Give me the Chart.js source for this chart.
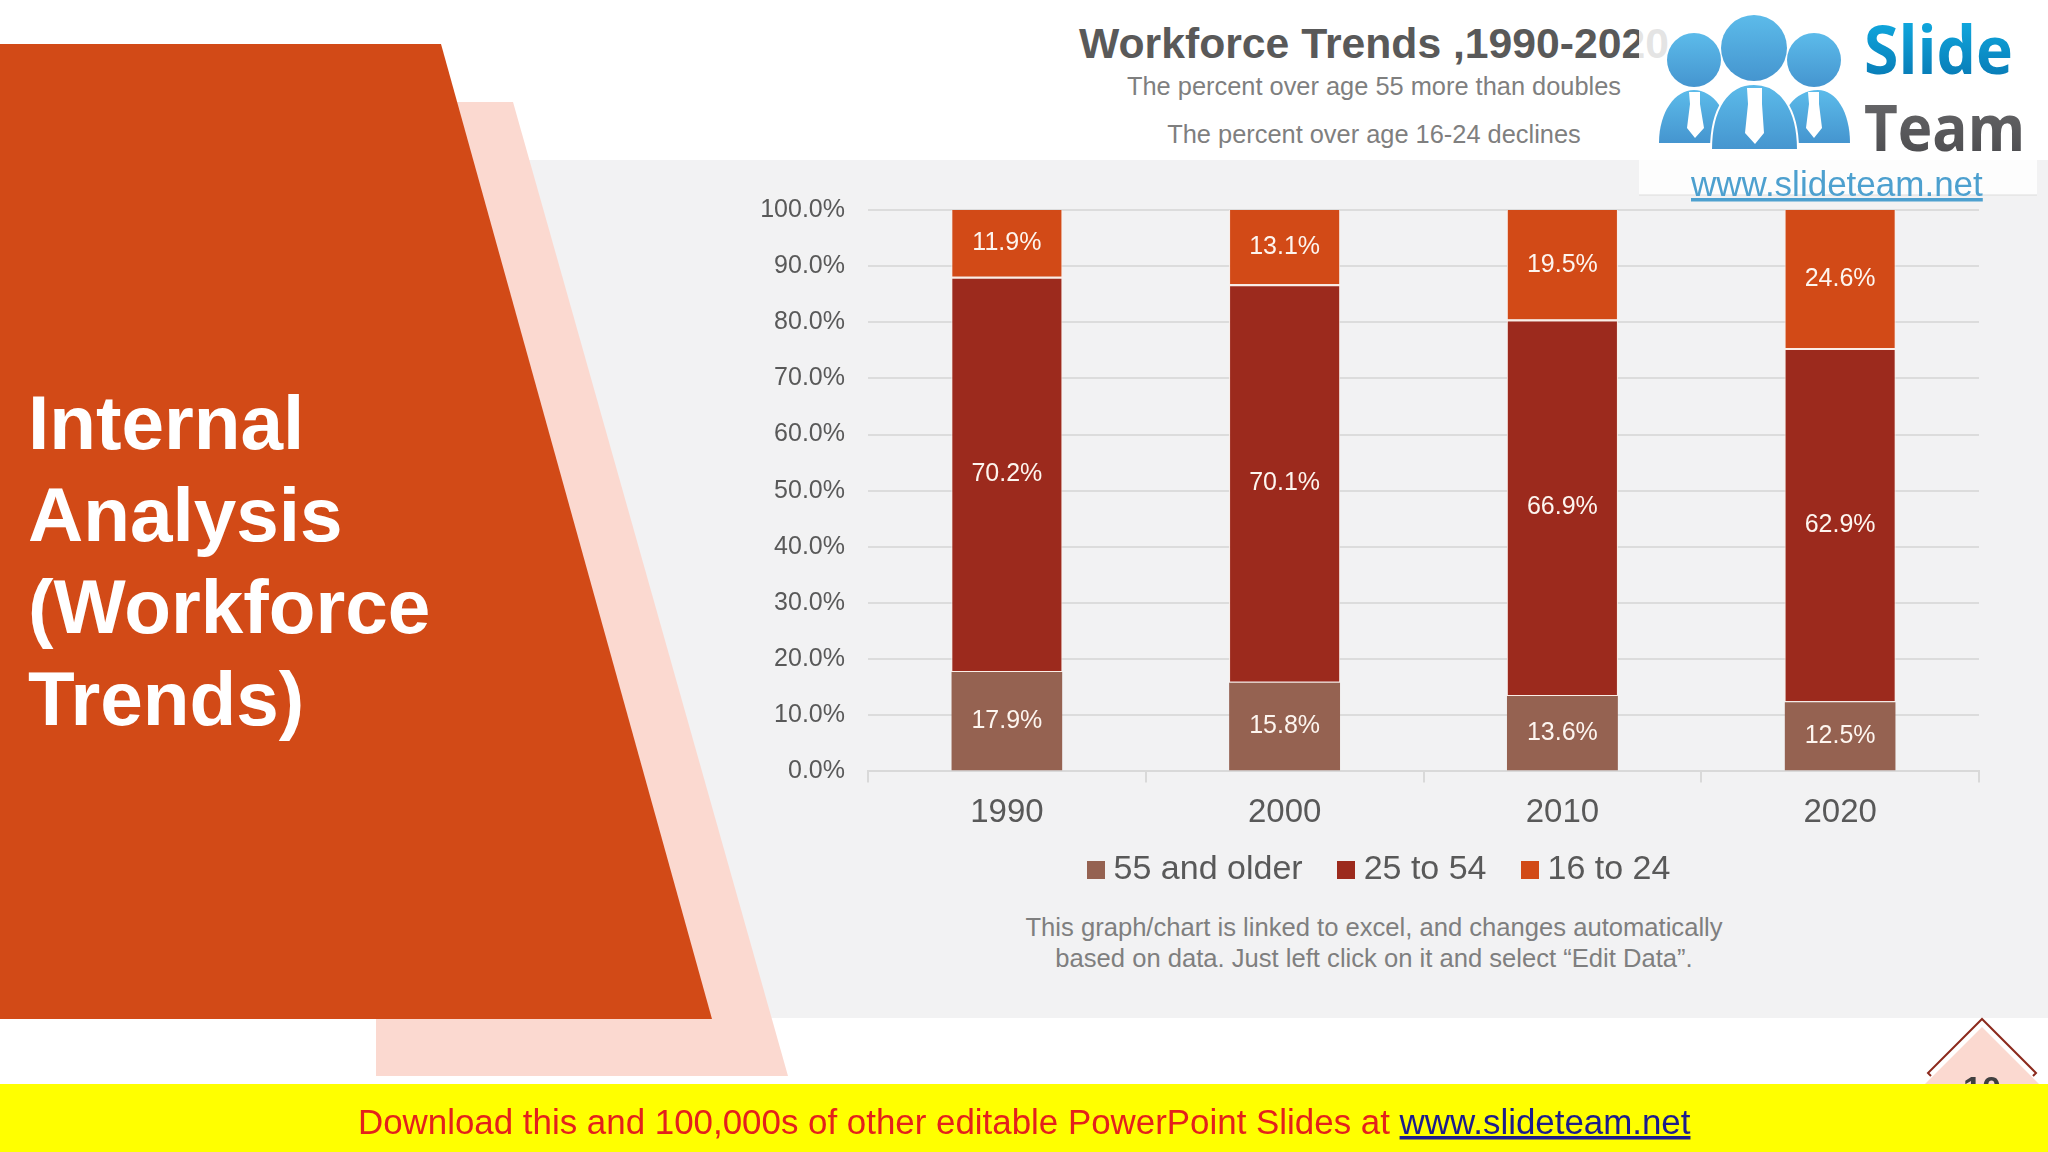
<!DOCTYPE html>
<html><head><meta charset="utf-8">
<script src="https://cdn.jsdelivr.net/npm/chart.js@4"></script>
<style>
html,body{margin:0;padding:0;background:#fff;width:2048px;height:1152px;overflow:hidden;font-family:"Liberation Sans",Arial,sans-serif}
#deco,#top{position:absolute;left:0;top:0}
#wrap{position:absolute;left:740px;top:172px;width:1276px;height:759px}
</style></head><body>
<svg id="deco" width="2048" height="1152" xmlns="http://www.w3.org/2000/svg">
<rect x="440" y="160" width="1608" height="858" fill="#F2F2F3"/>
<polygon points="400,102 513,102 788,1076 376,1076 376,1000" fill="#FBD9D0"/>
<polygon points="0,44 441,44 712,1019 0,1019" fill="#D24A17"/>
<g font-family="Liberation Sans" font-weight="700" font-size="76.5" fill="#fff">
<text x="28" y="449">Internal</text><text x="28" y="541">Analysis</text><text x="28" y="633">(Workforce</text><text x="28" y="725">Trends)</text>
</g>
<g text-anchor="middle" font-family="Liberation Sans" fill="#7f7f7f">
<text x="1374" y="58" font-size="42.7" font-weight="700" fill="#595959">Workforce Trends ,1990-2020</text>
<text x="1374" y="95" font-size="25.4">The percent over age 55 more than doubles</text>
<text x="1374" y="143" font-size="25.4">The percent over age 16-24 declines</text>
<text x="1374" y="936" font-size="25.6">This graph/chart is linked to excel, and changes automatically</text>
<text x="1374" y="967" font-size="25.6">based on data. Just left click on it and select “Edit Data”.</text>
</g>
</svg>
<div id="wrap"><canvas id="c" width="1276" height="759" style="width:1276px;height:759px"></canvas></div>
<svg id="top" width="2048" height="1152" xmlns="http://www.w3.org/2000/svg">
<defs>
<linearGradient id="gs" x1="0" y1="0" x2="0" y2="1"><stop offset="0" stop-color="#12b5ea"/><stop offset="1" stop-color="#0670ac"/></linearGradient>
<linearGradient id="gt" x1="0" y1="0" x2="0" y2="1"><stop offset="0" stop-color="#6e6e70"/><stop offset="1" stop-color="#47474a"/></linearGradient>
<linearGradient id="gb" x1="0" y1="0" x2="0" y2="1"><stop offset="0" stop-color="#5cbbea"/><stop offset="1" stop-color="#4595cf"/></linearGradient>
</defs>
<rect x="1639" y="0" width="398" height="195" fill="#fff" fill-opacity=".84"/>
<line x1="1639" y1="195" x2="2037" y2="195" stroke="#dcdcdc" stroke-width="1"/>
<g fill="url(#gb)">
<path d="M1659 143 C1659 112 1675 90 1694 90 C1713 90 1730 112 1730 143 Z"/>
<path d="M1778 143 C1778 112 1795 90 1818 90 C1836 90 1850 112 1850 143 Z"/>
<circle cx="1694" cy="60" r="27"/><circle cx="1814" cy="60" r="27"/><circle cx="1754" cy="48" r="33"/>
<path d="M1711 150 C1711 108 1728 84 1754 84 C1780 84 1798 108 1798 150 Z" stroke="#fff" stroke-width="2"/>
</g>
<g fill="#fff">
<polygon points="1689,92 1700,92 1700,104 1704,128 1695,138 1687,128 1690,104"/>
<polygon points="1747,88 1762,88 1762,104 1764,133 1755,144 1745,133 1748,104"/>
<polygon points="1808,92 1819,92 1819,104 1822,128 1814,138 1806,128 1809,104"/>
</g>
<text x="1864" y="74" font-family="Open Sans" font-weight="700" font-size="66" textLength="149" lengthAdjust="spacingAndGlyphs" fill="url(#gs)">Slide</text>
<text x="1864" y="151" font-family="Open Sans" font-weight="700" font-size="64" textLength="161" lengthAdjust="spacingAndGlyphs" fill="url(#gt)">Team</text>
<text x="1691" y="196" font-family="Liberation Sans" font-size="35" fill="#4da0cf" text-decoration="underline">www.slideteam.net</text>
<polygon points="1982,1027 2039,1084 1925,1084" fill="#FBD9D0"/>
<polyline points="1931,1076 1928,1073 1982,1019 2036,1073 2033,1076" fill="none" stroke="#8c2a1d" stroke-width="2"/>
<text x="1982" y="1100" text-anchor="middle" font-family="Liberation Sans" font-weight="700" font-size="34" fill="#404040">10</text>
<rect x="0" y="1084" width="2048" height="68" fill="#FFFF00"/>
<text x="358" y="1134" font-family="Liberation Sans" font-size="34.9" fill="#e3211c">Download this and 100,000s of other editable PowerPoint Slides at <tspan fill="#1c1c8c" text-decoration="underline">www.slideteam.net</tspan></text>
</svg>
<script>
const years = ['1990', '2000', '2010', '2020'];
const seriesNames = ['55 and older', '25 to 54', '16 to 24'];
const older55 = [17.9, 15.8, 13.6, 12.5];
const mid2554 = [70.2, 70.1, 66.9, 62.9];
const young1624 = [11.9, 13.1, 19.5, 24.6];
const seriesColors = ['#956251', '#9C2A1D', '#D24A17'];
const allSeries = [older55, mid2554, young1624];
const seriesBorders = [{ top: 1 }, { top: 2, left: 1, right: 1 }, { left: 1, right: 1 }];

// the source is a 100% stacked chart: segments are shares of each year's total
const totals = years.map((_, i) => older55[i] + mid2554[i] + young1624[i]);
const pct = arr => arr.map((v, i) => v / totals[i] * 100);

function swatch(color) {
  const s = document.createElement('canvas');
  s.width = 18; s.height = 18;
  const g = s.getContext('2d');
  g.fillStyle = color; g.fillRect(0, 0, 18, 18);
  return s;
}

const valueLabels = {
  id: 'valueLabels',
  afterLayout(chart) {
    const L = chart.legend;
    const w = L.right - L.left;
    L.left = 643 - w / 2;
    L.right = 643 + w / 2;
    L.top -= 34;
    L.bottom -= 34;
  },
  afterDatasetsDraw(chart) {
    const ctx = chart.ctx;
    ctx.save();
    ctx.font = '25px "Liberation Sans"';
    ctx.fillStyle = '#FDF5EF';
    ctx.textAlign = 'center';
    ctx.textBaseline = 'middle';
    chart.data.datasets.forEach((ds, d) => {
      chart.getDatasetMeta(d).data.forEach((bar, i) => {
        const p = bar.getProps(['x', 'y', 'base'], true);
        ctx.fillText(allSeries[d][i].toFixed(1) + '%', p.x, (p.y + p.base) / 2);
      });
    });
    ctx.restore();
  }
};

Chart.defaults.font.family = '"Liberation Sans"';
new Chart(document.getElementById('c'), {
  type: 'bar',
  data: {
    labels: years,
    datasets: seriesNames.map((n, d) => ({
      label: n,
      data: pct(allSeries[d]),
      backgroundColor: seriesColors[d],
      borderColor: '#FBEDE6',
      borderWidth: seriesBorders[d],
      borderSkipped: false,
      categoryPercentage: 0.4,
      barPercentage: 1
    }))
  },
  options: {
    responsive: false,
    animation: false,
    devicePixelRatio: 1,
    layout: { padding: { left: 0, right: 37, top: 20, bottom: 0 } },
    plugins: {
      tooltip: { enabled: false },
      legend: {
        position: 'bottom',
        labels: {
          usePointStyle: true,
          pointStyleWidth: 1,
          boxHeight: 34,
          padding: 43,
          color: '#595959',
          font: { size: 34 },
          generateLabels: () => seriesNames.map((n, d) => ({
            text: n, fillStyle: seriesColors[d], strokeStyle: seriesColors[d],
            lineWidth: 0, pointStyle: swatch(seriesColors[d]), datasetIndex: d, fontColor: '#595959'
          }))
        }
      }
    },
    scales: {
      x: {
        stacked: true,
        grid: { drawOnChartArea: false, drawTicks: true, tickLength: 11, color: '#D9D9D9', lineWidth: 2, offset: true },
        border: { color: '#D9D9D9', width: 2 },
        ticks: { color: '#595959', font: { size: 33 }, padding: 11, maxRotation: 0 }
      },
      y: {
        stacked: true,
        min: 0, max: 100,
        afterFit(s) { s.width = 128; },
        grid: { color: '#DCDCDC', lineWidth: 2, drawTicks: false },
        border: { display: false },
        ticks: { stepSize: 10, color: '#595959', font: { size: 25 }, padding: 23, callback: v => v.toFixed(1) + '%' }
      }
    }
  },
  plugins: [valueLabels]
});
</script>
</body></html>
